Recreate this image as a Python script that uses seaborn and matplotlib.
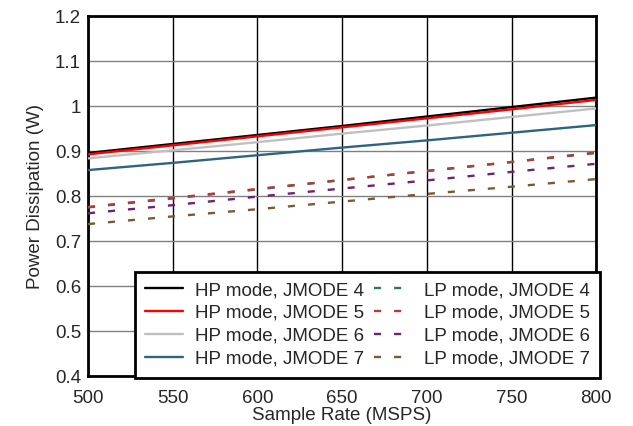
import matplotlib
matplotlib.use("Agg")
import matplotlib.pyplot as plt
import seaborn as sns
import pandas as pd

# 采样率 (MSPS)
sample_rate = [500, 550, 600, 650, 700, 750, 800]

# HP mode 功耗 (W)
hp_jmode4 = [0.896, 0.916, 0.936, 0.956, 0.977, 0.998, 1.019]
hp_jmode5 = [0.893, 0.913, 0.933, 0.953, 0.973, 0.993, 1.014]
hp_jmode6 = [0.884, 0.902, 0.920, 0.939, 0.957, 0.976, 0.995]
hp_jmode7 = [0.858, 0.874, 0.891, 0.908, 0.924, 0.941, 0.958]

# LP mode 功耗 (W)
lp_jmode4 = [0.775, 0.795, 0.815, 0.836, 0.856, 0.876, 0.897]
lp_jmode5 = [0.776, 0.796, 0.816, 0.836, 0.856, 0.876, 0.896]
lp_jmode6 = [0.762, 0.780, 0.799, 0.817, 0.835, 0.854, 0.872]
lp_jmode7 = [0.738, 0.755, 0.771, 0.788, 0.805, 0.821, 0.838]

series = [
    ("HP mode, JMODE 4", hp_jmode4, "#000000", "-"),
    ("HP mode, JMODE 5", hp_jmode5, "#ff0000", "-"),
    ("HP mode, JMODE 6", hp_jmode6, "#c0c0c0", "-"),
    ("HP mode, JMODE 7", hp_jmode7, "#2f6480", "-"),
    ("LP mode, JMODE 4", lp_jmode4, "#2e7a4e", "--"),
    ("LP mode, JMODE 5", lp_jmode5, "#b03c3c", "--"),
    ("LP mode, JMODE 6", lp_jmode6, "#6e236e", "--"),
    ("LP mode, JMODE 7", lp_jmode7, "#7a5a32", "--"),
]

sns.set_style("white")
plt.rcParams['font.family'] = ['Liberation Sans', 'DejaVu Sans']
fs = 13.5

fig = plt.figure(figsize=(6.33, 4.26), dpi=100)
ax = fig.add_axes([0.139, 0.117, 0.803, 0.845])

for name, vals, color, ls in series:
    df = pd.DataFrame({'Sample Rate': sample_rate, 'Power': vals})
    sns.lineplot(data=df, x='Sample Rate', y='Power', ax=ax, color=color,
                 linewidth=1.7, label=name, zorder=3)
    if ls == "--":
        ax.lines[-1].set_dashes((3, 5.5))

ax.set_xlim(500, 800)
ax.set_ylim(0.4, 1.2)
ax.set_xticks(range(500, 801, 50))
ax.set_yticks([0.4, 0.5, 0.6, 0.7, 0.8, 0.9, 1.0, 1.1, 1.2])
ax.set_yticklabels(['0.4', '0.5', '0.6', '0.7', '0.8', '0.9', '1', '1.1', '1.2'])

# 网格线：竖线黑色，横线灰色
ax.xaxis.grid(True, color='black', linewidth=1.0)
ax.yaxis.grid(True, color='#808080', linewidth=1.0)
ax.set_axisbelow(True)

for sp in ax.spines.values():
    sp.set_visible(True)
    sp.set_color('black')
    sp.set_linewidth(2.0)

ax.tick_params(axis='y', length=0, labelsize=fs, pad=5)
ax.tick_params(axis='x', length=0, labelsize=fs, pad=10)
ax.set_xlabel('Sample Rate (MSPS)', fontsize=fs, labelpad=0)
ax.set_ylabel('Power Dissipation (W)', fontsize=fs, labelpad=8)

leg = ax.legend(loc='lower right', bbox_to_anchor=(1.008, -0.004), ncol=2,
                fontsize=fs, frameon=True, fancybox=False, framealpha=1,
                handlelength=2.0, labelspacing=0.3, columnspacing=0.55,
                handletextpad=0.65, borderpad=0.55, borderaxespad=0.0)
leg.get_frame().set_edgecolor('black')
leg.get_frame().set_linewidth(2.0)
leg.set_zorder(5)

fig.savefig('out.png', dpi=100)
